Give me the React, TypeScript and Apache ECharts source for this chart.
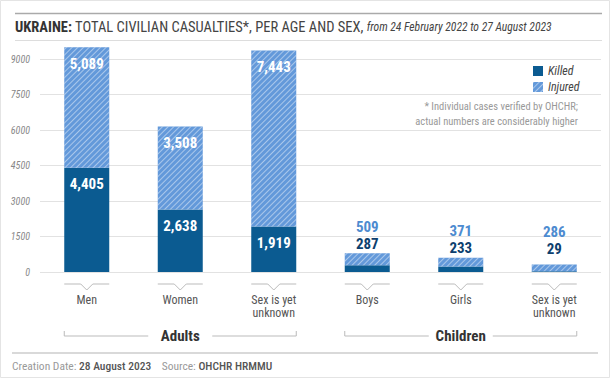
import React, { useEffect, useRef } from "react";
import * as echarts from "echarts";

const categories = ["Men", "Women", "Sex is yet\nunknown", "Boys", "Girls", "Sex is yet\nunknown"];
const killed = [4405, 2638, 1919, 287, 233, 29];
const injured = [5089, 3508, 7443, 509, 371, 286];
const adultCount = 3;
const yMin = 0;
const yMax = 9000;
const yInterval = 1500;
const groups = [
  { name: "Adults", from: 0, to: 2 },
  { name: "Children", from: 3, to: 5 },
];

const FONT = "'Roboto Condensed', 'Liberation Sans Narrow', 'Arial Narrow', 'DejaVu Sans Condensed', Roboto, sans-serif";
const DARK = "#0b5b91";
const LIGHT = "#6399da";
const LIGHT_TXT = "#4d8bd0";
const HALF_BAR = 22.5;

const fmt = (v: number) => v.toLocaleString("en-US");

export default function App() {
  const ref = useRef<HTMLDivElement>(null);
  useEffect(() => {
    document.body.style.margin = "0";
    const chart = echarts.init(ref.current!, null, { renderer: "svg" });
    const whiteLabel = {
      show: true,
      position: "insideTop",
      distance: 9,
      color: "#fff",
      fontSize: 15,
      fontWeight: "bold",
      fontFamily: FONT,
      formatter: (p: any) => fmt(p.value),
    };
    const option: any = {
      animation: false,
      backgroundColor: "#fff",
      grid: { left: 40, right: 9, top: 59, bottom: 106, containLabel: false },
      legend: {
        data: ["Killed", "Injured"],
        orient: "vertical",
        left: 528,
        top: 60,
        itemWidth: 10,
        itemHeight: 10,
        itemGap: 4,
        icon: "rect",
        textStyle: { fontStyle: "italic", fontSize: 12, color: "#444", fontFamily: FONT },
      },
      xAxis: {
        type: "category",
        data: categories,
        axisLine: { show: false },
        axisTick: { show: false },
        axisLabel: { margin: 21, fontSize: 12, lineHeight: 13, color: "#555", fontFamily: FONT },
      },
      yAxis: {
        type: "value",
        min: yMin,
        max: yMax,
        interval: yInterval,
        axisLine: { show: false },
        axisTick: { show: false },
        axisLabel: {
          margin: 10,
          fontSize: 10,
          fontStyle: "italic",
          color: "#888",
          fontFamily: FONT,
          formatter: (v: number) => String(v),
        },
        splitLine: { lineStyle: { color: "#e2e2e2", width: 1 } },
      },
      graphic: [
        { type: "rect", shape: { x: 0.5, y: 0.5, width: 609, height: 377 }, style: { fill: "none", stroke: "#e4e4e4" }, silent: true },
        { type: "line", shape: { x1: 15, y1: 13.5, x2: 602, y2: 13.5 }, style: { stroke: "#aaa", lineWidth: 1.5 }, silent: true },
        { type: "line", shape: { x1: 15, y1: 40.5, x2: 602, y2: 40.5 }, style: { stroke: "#ddd", lineWidth: 1 }, silent: true },
        { type: "line", shape: { x1: 12, y1: 353, x2: 598, y2: 353 }, style: { stroke: "#ccc", lineWidth: 1.5 }, silent: true },
        {
          type: "text",
          x: 15,
          y: 27,
          scaleX: 0.967,
          style: {
            text: "{b|UKRAINE:} {r|TOTAL CIVILIAN CASUALTIES*, PER AGE AND SEX,} {i|from 24 February 2022 to 27 August 2023}",
            verticalAlign: "middle",
            rich: {
              b: { fontSize: 15, fontWeight: "bold", fill: "#333", fontFamily: FONT },
              r: { fontSize: 15, fill: "#444", fontFamily: FONT },
              i: { fontSize: 12, fontStyle: "italic", fill: "#444", fontFamily: FONT },
            },
          },
        },
        {
          type: "text",
          x: 578,
          y: 114,
          style: {
            text: "* Individual cases verified by OHCHR;\nactual numbers are considerably higher",
            align: "right",
            verticalAlign: "middle",
            fontSize: 10.5,
            lineHeight: 14.5,
            fill: "#999",
            fontFamily: FONT,
          },
        },
        {
          type: "text",
          x: 12,
          y: 366,
          style: {
            text: "{l|Creation Date: }{d|28 August 2023}{l|    Source: }{d|OHCHR HRMMU}",
            verticalAlign: "middle",
            rich: {
              l: { fontSize: 11.5, fill: "#999", fontFamily: FONT },
              d: { fontSize: 11.5, fill: "#555", fontWeight: 500, fontFamily: FONT },
            },
          },
        },
      ],
      series: [
        {
          name: "Killed",
          type: "bar",
          stack: "total",
          barWidth: 45,
          clip: false,
          itemStyle: { color: DARK },
          data: killed.map((v, i) => ({
            value: v,
            label: i < adultCount ? whiteLabel : { show: false },
          })),
        },
        {
          name: "Injured",
          type: "bar",
          stack: "total",
          barWidth: 45,
          clip: false,
          itemStyle: {
            color: LIGHT,
            decal: {
              symbol: "rect",
              symbolSize: 1,
              color: "rgba(255,255,255,0.45)",
              dashArrayX: [1, 0],
              dashArrayY: [1, 3],
              rotation: -Math.PI / 4,
            },
          },
          data: injured.map((v, i) => ({
            value: v,
            label:
              i < adultCount
                ? whiteLabel
                : {
                    show: true,
                    position: "top",
                    distance: i === categories.length - 1 ? 7 : 1,
                    formatter: () => `{a|${fmt(injured[i])}}\n{b|${fmt(killed[i])}}`,
                    rich: {
                      a: { fontSize: 15, fontWeight: "bold", color: LIGHT_TXT, lineHeight: 17, fontFamily: FONT },
                      b: { fontSize: 15, fontWeight: "bold", color: "#0d3f6e", lineHeight: 17, fontFamily: FONT },
                    },
                  },
          })),
        },
        {
          type: "custom",
          silent: true,
          data: categories.map((_, i) => [i, 0]),
          encode: { x: 0, y: 1 },
          renderItem: (params: any, api: any) => {
            const p = api.coord([api.value(0), 0]);
            const x = p[0];
            const y = p[1];
            return {
              type: "polyline",
              shape: {
                points: [
                  [x - HALF_BAR, y + 12],
                  [x - 6, y + 12],
                  [x, y + 18],
                  [x + 6, y + 12],
                  [x + HALF_BAR, y + 12],
                ],
              },
              style: { stroke: "#bbb", fill: null, lineWidth: 1 },
            };
          },
        },
        {
          type: "custom",
          silent: true,
          data: groups.map((g) => [g.from, g.to, 0]),
          encode: { x: 0, y: 2 },
          renderItem: (params: any, api: any) => {
            const a = api.coord([api.value(0), 0]);
            const b = api.coord([api.value(1), 0]);
            const x0 = a[0] - HALF_BAR;
            const x1 = b[0] + HALF_BAR;
            const y = a[1] + 64;
            const cx = (x0 + x1) / 2;
            return {
              type: "group",
              children: [
                {
                  type: "polyline",
                  shape: { points: [[x0, y - 5], [x0, y], [cx - 32, y]] },
                  style: { stroke: "#bbb", fill: null, lineWidth: 1 },
                },
                {
                  type: "polyline",
                  shape: { points: [[cx + 32, y], [x1, y], [x1, y - 5]] },
                  style: { stroke: "#bbb", fill: null, lineWidth: 1 },
                },
                {
                  type: "text",
                  x: cx,
                  y: y,
                  style: {
                    text: groups[params.dataIndex].name,
                    align: "center",
                    verticalAlign: "middle",
                    fontSize: 15,
                    fontWeight: "bold",
                    fill: "#333",
                    fontFamily: FONT,
                  },
                },
              ],
            };
          },
        },
      ],
    };
    chart.setOption(option);
    return () => chart.dispose();
  }, []);
  return <div ref={ref} style={{ width: 610, height: 378 }} />;
}
